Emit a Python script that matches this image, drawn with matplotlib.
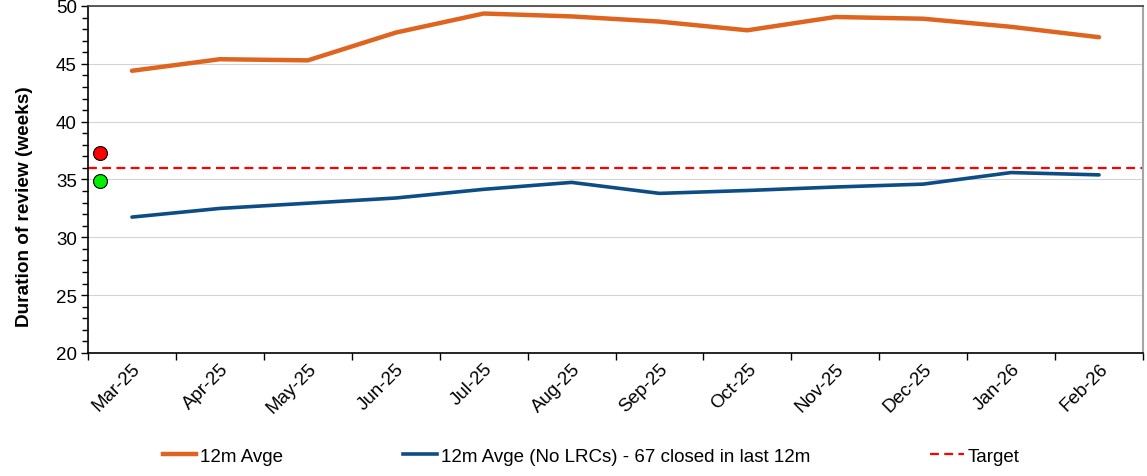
import matplotlib
matplotlib.use("Agg")
import matplotlib.pyplot as plt
from matplotlib.lines import Line2D
from matplotlib.ticker import MultipleLocator, FixedLocator
import numpy as np

plt.rcParams['font.family'] = ['Liberation Sans', 'DejaVu Sans']

months = ["Mar-25", "Apr-25", "May-25", "Jun-25", "Jul-25", "Aug-25",
          "Sep-25", "Oct-25", "Nov-25", "Dec-25", "Jan-26", "Feb-26"]
avg_12m = [44.4, 45.4, 45.3, 47.7, 49.35, 49.1, 48.65, 47.9, 49.05, 48.9, 48.2, 47.3]
avg_no_lrc = [31.75, 32.5, 32.95, 33.4, 34.15, 34.75, 33.8, 34.05, 34.35, 34.6, 35.6, 35.4]
target = 36
status_red = 37.3
status_green = 34.85

ORANGE = '#DE6420'
BLUE = '#0D4D86'
DASH = (0, (4, 2.4))

fig = plt.figure(figsize=(11.47, 4.77), dpi=100)
ax = fig.add_axes([88 / 1147, 1 - 354 / 477, (1143 - 88) / 1147, (354 - 7) / 477])

x = np.arange(len(months))

ax.plot(x, avg_12m, color=ORANGE, lw=3.2, solid_capstyle='round',
        solid_joinstyle='round', zorder=3)
ax.plot(x, avg_no_lrc, color=BLUE, lw=2.6, solid_capstyle='round',
        solid_joinstyle='round', zorder=3)
ax.axhline(target, color='#FF0000', lw=1.6, ls=DASH, zorder=2)

# status dots left of the first month
dot_x = -0.36
ax.plot([dot_x], [status_red], 'o', ms=10, mfc='#FF0000', mec='black', mew=0.8, zorder=4)
ax.plot([dot_x], [status_green], 'o', ms=10, mfc='#00F000', mec='black', mew=0.8, zorder=4)

ax.set_xlim(-0.5, len(months) - 0.5)
ax.set_ylim(20, 50)
ax.yaxis.set_major_locator(MultipleLocator(5))
ax.yaxis.set_minor_locator(MultipleLocator(1))
ax.grid(axis='y', which='major', color='#D4D4D4', lw=0.8, zorder=0)
ax.set_axisbelow(True)

ax.xaxis.set_major_locator(FixedLocator(np.arange(-0.5, len(months), 1.0)))
ax.xaxis.set_minor_locator(FixedLocator(x))
ax.set_xticklabels([])
ax.set_xticklabels(months, minor=True, rotation=45, ha='right', rotation_mode='anchor',
                   fontsize=13.5)
ax.tick_params(axis='x', which='major', direction='out', length=5, width=1)
ax.tick_params(axis='x', which='minor', length=0, pad=5)
ax.tick_params(axis='y', which='major', direction='out', length=5, width=1, labelsize=13.5, pad=3)
ax.tick_params(axis='y', which='minor', direction='out', length=4, width=1)

# y title sits a bit below the plot centre, like the original
fig.text(25 / 1147, 1 - 207 / 477, "Duration of review (weeks)", rotation=90,
         ha='center', va='center', fontsize=13.7, fontweight='bold')

for side in ['left', 'bottom']:
    ax.spines[side].set_color('black')
    ax.spines[side].set_linewidth(1.2)
ax.spines['top'].set_color('#404040')
ax.spines['top'].set_linewidth(1.2)
ax.spines['right'].set_color('#A6A6A6')
ax.spines['right'].set_linewidth(1.5)

handles = [
    Line2D([], [], color=ORANGE, lw=3.2),
    Line2D([], [], color=BLUE, lw=2.6),
    Line2D([], [], color='#FF0000', lw=1.6, ls=DASH),
]
labels = ["12m Avge", "12m Avge (No LRCs) - 67 closed in last 12m", "Target"]
fig.legend(handles, labels, loc='center', bbox_to_anchor=(591 / 1147, 20 / 477), ncol=3,
           frameon=False, fontsize=13.5, handlelength=1.8, handletextpad=0.2,
           columnspacing=6.4)

fig.savefig("out.png", dpi=100)
